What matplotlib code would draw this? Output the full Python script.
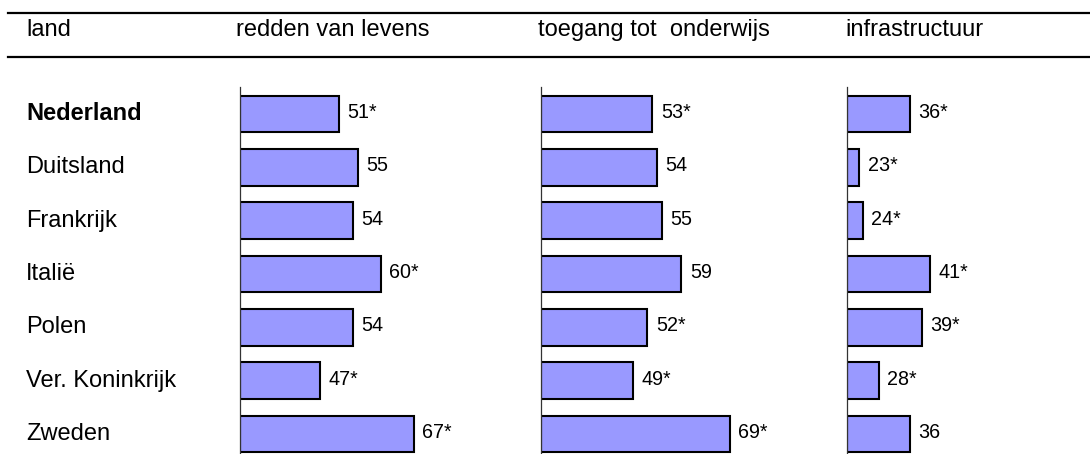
import matplotlib
matplotlib.use("Agg")
import matplotlib.pyplot as plt
from matplotlib.lines import Line2D
from matplotlib.transforms import blended_transform_factory, offset_copy

plt.rcParams['font.family'] = ['Liberation Sans', 'DejaVu Sans']

countries = ['Nederland', 'Duitsland', 'Frankrijk', 'Italië', 'Polen',
             'Ver. Koninkrijk', 'Zweden']
headers = ['land', 'redden van levens', 'toegang tot  onderwijs', 'infrastructuur']

redden = [51, 55, 54, 60, 54, 47, 67]
redden_labels = ['51*', '55', '54', '60*', '54', '47*', '67*']
onderwijs = [53, 54, 55, 59, 52, 49, 69]
onderwijs_labels = ['53*', '54', '55', '59', '52*', '49*', '69*']
infra = [36, 23, 24, 41, 39, 28, 36]
infra_labels = ['36*', '23*', '24*', '41*', '39*', '28*', '36']

W, H = 1090, 454
fig = plt.figure(figsize=(W / 100, H / 100), dpi=100)

def fx(px):
    return px / W

def fy(py):
    return 1 - py / H

top_px = 87.3
panels = [
    (redden, redden_labels, 240.0, 235.0, (30, 80)),
    (onderwijs, onderwijs_labels, 541.0, 242.0, (30, 80)),
    (infra, infra_labels, 847.3, 235.0, (20, 80)),
]

rows = list(range(len(countries)))
axes = []
for vals, labels, left, width, xlim in panels:
    ax = fig.add_axes([fx(left), 0, fx(width), (H - top_px) / H])
    ax.set_xlim(*xlim)
    ax.set_ylim(6.375, -0.5)
    ax.barh(rows, [v - xlim[0] for v in vals], left=xlim[0], height=0.69,
            color='#9999FF', edgecolor='black', linewidth=1.5, zorder=2)
    tr = offset_copy(ax.transData, fig=fig, x=8.5, y=1.5, units='dots')
    for r, v, lab in zip(rows, vals, labels):
        ax.text(v, r, lab, transform=tr, fontsize=14.2, va='center',
                ha='left', color='black')
    for s in ['top', 'right', 'bottom']:
        ax.spines[s].set_visible(False)
    ax.spines['left'].set_color('#333333')
    ax.spines['left'].set_linewidth(0.9)
    ax.set_xticks([])
    ax.set_yticks([])
    ax.patch.set_alpha(0)
    axes.append(ax)

# country labels
tr_c = blended_transform_factory(fig.transFigure, axes[0].transData)
for r, c in zip(rows, countries):
    fig.text(fx(26), r, c, transform=tr_c, fontsize=17, va='center', ha='left',
             fontweight='bold' if c == 'Nederland' else 'normal')

# headers
header_x = [26, 236.5, 538, 845]
for hx, h in zip(header_x, headers):
    fig.text(fx(hx), fy(30), h, fontsize=17, va='center', ha='left')

# header rules
for yy in [13.3, 56.7]:
    fig.add_artist(Line2D([fx(8), 1], [fy(yy), fy(yy)], color='black',
                          linewidth=1.6, transform=fig.transFigure))

fig.savefig('out.png', dpi=100)
